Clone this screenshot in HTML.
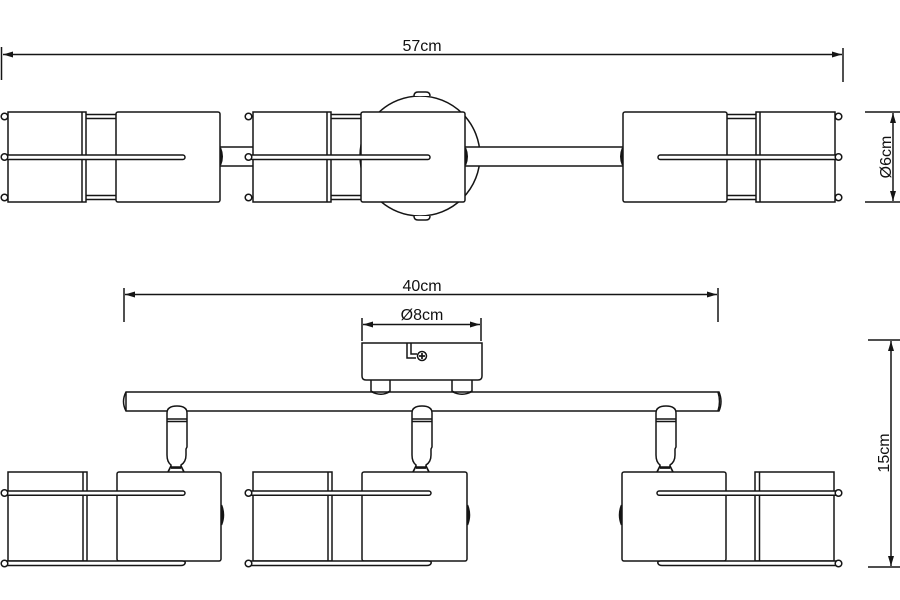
<!DOCTYPE html>
<html><head><meta charset="utf-8"><style>
html,body{margin:0;padding:0;background:#fff;}
svg{display:block;}
text{font-family:"Liberation Sans",Arial,sans-serif;fill:#111;}
</style></head><body>
<svg width="900" height="600" viewBox="0 0 900 600" xmlns="http://www.w3.org/2000/svg">
<g fill="none" stroke="#151515" stroke-width="1.5">

<!-- ===== TOP DIMENSION 57cm ===== -->
<line x1="1.5" y1="47" x2="1.5" y2="80"/>
<line x1="843" y1="48" x2="843" y2="82"/>
<line x1="3" y1="54.5" x2="842" y2="54.5"/>
<polygon points="3,54.5 13,51.5 13,57.5" fill="#151515" stroke="none"/>
<polygon points="842,54.5 832,51.5 832,57.5" fill="#151515" stroke="none"/>

<!-- ===== Ø6cm ===== -->
<line x1="865" y1="112" x2="900" y2="112"/>
<line x1="865" y1="202" x2="900" y2="202"/>
<line x1="893" y1="113" x2="893" y2="201"/>
<polygon points="893,113 890,123 896,123" fill="#151515" stroke="none"/>
<polygon points="893,201 890,191 896,191" fill="#151515" stroke="none"/>

<!-- ===== TOP VIEW ===== -->
<circle cx="420" cy="156" r="60" fill="#fff"/>
<path d="M414,96 Q414,92 418,92 L426,92 Q430,92 430,96" fill="#fff"/>
<path d="M414,216 Q414,220 418,220 L426,220 Q430,220 430,216" fill="#fff"/>
<rect x="218" y="147" width="37" height="19" fill="#fff"/>
<rect x="463" y="147" width="162" height="19" fill="#fff"/>

<!-- L1 -->
<rect x="116" y="112" width="104" height="90" rx="2" fill="#fff"/>
<line x1="86" y1="114.5" x2="116" y2="114.5"/><line x1="86" y1="118.5" x2="116" y2="118.5"/>
<line x1="86" y1="195.5" x2="116" y2="195.5"/><line x1="86" y1="199.5" x2="116" y2="199.5"/>
<rect x="8" y="112" width="78" height="90" fill="#fff"/>
<line x1="82" y1="112" x2="82" y2="202"/>
<rect x="6" y="155" width="179" height="4.5" rx="2.2" fill="#fff"/>
<circle cx="4.5" cy="116.5" r="3.3" fill="#fff"/>
<circle cx="4.5" cy="157" r="3.3" fill="#fff"/>
<circle cx="4.5" cy="197.5" r="3.3" fill="#fff"/>
<path d="M220.5,148 Q224,156.5 220.5,165" fill="#151515"/>

<!-- L2 -->
<line x1="331" y1="114.5" x2="361" y2="114.5"/><line x1="331" y1="118.5" x2="361" y2="118.5"/>
<line x1="331" y1="195.5" x2="361" y2="195.5"/><line x1="331" y1="199.5" x2="361" y2="199.5"/>
<rect x="361" y="112" width="104" height="90" rx="2" fill="#fff"/>
<rect x="253" y="112" width="78" height="90" fill="#fff"/>
<line x1="327" y1="112" x2="327" y2="202"/>
<rect x="250" y="155" width="180" height="4.5" rx="2.2" fill="#fff"/>
<circle cx="248.5" cy="116.5" r="3.3" fill="#fff"/>
<circle cx="248.5" cy="157" r="3.3" fill="#fff"/>
<circle cx="248.5" cy="197.5" r="3.3" fill="#fff"/>
<path d="M465.5,148 Q469,156.5 465.5,165" fill="#151515"/>

<!-- L3 -->
<line x1="727" y1="114.5" x2="756" y2="114.5"/><line x1="727" y1="118.5" x2="756" y2="118.5"/>
<line x1="727" y1="195.5" x2="756" y2="195.5"/><line x1="727" y1="199.5" x2="756" y2="199.5"/>
<rect x="623" y="112" width="104" height="90" rx="2" fill="#fff"/>
<rect x="756" y="112" width="79" height="90" fill="#fff"/>
<line x1="760" y1="112" x2="760" y2="202"/>
<rect x="658" y="155" width="180" height="4.5" rx="2.2" fill="#fff"/>
<circle cx="838.5" cy="116.5" r="3.3" fill="#fff"/>
<circle cx="838.5" cy="157" r="3.3" fill="#fff"/>
<circle cx="838.5" cy="197.5" r="3.3" fill="#fff"/>
<path d="M622.5,148 Q619,156.5 622.5,165" fill="#151515"/>

<!-- ===== 40cm ===== -->
<line x1="124" y1="288" x2="124" y2="322"/>
<line x1="718" y1="288" x2="718" y2="322"/>
<line x1="125" y1="294.5" x2="717" y2="294.5"/>
<polygon points="125,294.5 135,291.5 135,297.5" fill="#151515" stroke="none"/>
<polygon points="717,294.5 707,291.5 707,297.5" fill="#151515" stroke="none"/>

<!-- ===== Ø8cm ===== -->
<line x1="362" y1="318" x2="362" y2="341"/>
<line x1="481" y1="318" x2="481" y2="341"/>
<line x1="363" y1="324.5" x2="480" y2="324.5"/>
<polygon points="363,324.5 373,321.5 373,327.5" fill="#151515" stroke="none"/>
<polygon points="480,324.5 470,321.5 470,327.5" fill="#151515" stroke="none"/>

<!-- ===== 15cm ===== -->
<line x1="868" y1="340" x2="900" y2="340"/>
<line x1="868" y1="567" x2="900" y2="567"/>
<line x1="891" y1="341" x2="891" y2="566"/>
<polygon points="891,341 888,351 894,351" fill="#151515" stroke="none"/>
<polygon points="891,566 888,556 894,556" fill="#151515" stroke="none"/>

<!-- ===== FRONT VIEW ===== -->
<path d="M371,380 L371,391 Q381,397 390,391 L390,380" fill="#fff"/>
<path d="M452,380 L452,391 Q462,397 472,391 L472,380" fill="#fff"/>
<path d="M362,343 L482,343 L482,376 Q482,380 478,380 L366,380 Q362,380 362,376 Z" fill="#fff"/>
<path d="M407,343 L407,358 L416,358"/>
<path d="M411,343 L411,354 L417,354"/>
<circle cx="422" cy="356" r="4.5" fill="#fff"/>
<line x1="419" y1="356" x2="425" y2="356" stroke-width="1.7"/>
<line x1="422" y1="353" x2="422" y2="359" stroke-width="1.7"/>

<!-- bar -->
<path d="M126,392 L719,392 Q723,401.5 719,411 L126,411 Q121,401.5 126,392 Z" fill="#fff"/>
<line x1="126" y1="392" x2="126" y2="411"/>
<path d="M718,392 Q721,401.5 718,411"/>
<path d="M371,391.5 Q381,397 390,391.5"/>
<path d="M452,391.5 Q462,397 472,391.5"/>

<!-- pivots -->
<g fill="#fff">
<path d="M167,413 Q167,406 177,406 Q187,406 187,413 L187,447 L186,449 L186,455 Q186,462 181,465 L181,467 L171,467 L171,465 Q167,462 167,455 Z"/>
<path d="M412,413 Q412,406 422,406 Q432,406 432,413 L432,447 L431,449 L431,455 Q431,462 426,465 L426,467 L416,467 L416,465 Q412,462 412,455 Z"/>
<path d="M656,413 Q656,406 666,406 Q676,406 676,413 L676,447 L675,449 L675,455 Q675,462 670,465 L670,467 L660,467 L660,465 Q656,462 656,455 Z"/>
</g>
<line x1="167" y1="419" x2="187" y2="419"/><line x1="167" y1="421.5" x2="187" y2="421.5"/>
<line x1="412" y1="419" x2="432" y2="419"/><line x1="412" y1="421.5" x2="432" y2="421.5"/>
<line x1="656" y1="419" x2="676" y2="419"/><line x1="656" y1="421.5" x2="676" y2="421.5"/>
<path d="M171,466 L168,472 M181,466 L184,472 M171,468 L181,468" stroke-width="1.7"/>
<path d="M416,466 L413,472 M426,466 L429,472 M416,468 L426,468" stroke-width="1.7"/>
<path d="M660,466 L657,472 M670,466 L673,472 M660,468 L670,468" stroke-width="1.7"/>

<!-- B1 -->
<rect x="117" y="472" width="104" height="89" rx="2" fill="#fff"/>
<rect x="8" y="472" width="79" height="89" fill="#fff"/>
<line x1="83" y1="472" x2="83" y2="561"/>
<rect x="6" y="491" width="179" height="4.2" rx="2.1" fill="#fff"/>
<path d="M6,561 L182,561 Q186,561 185,563.5 Q184,565.5 181,565.5 L6,565.5" fill="#fff"/>
<circle cx="4.5" cy="493" r="3.3" fill="#fff"/>
<circle cx="4.5" cy="563.5" r="3.3" fill="#fff"/>
<path d="M221.5,505 Q225.5,515 221.5,525" fill="#151515"/>

<!-- B2 -->
<rect x="362" y="472" width="105" height="89" rx="2" fill="#fff"/>
<rect x="253" y="472" width="79" height="89" fill="#fff"/>
<line x1="328" y1="472" x2="328" y2="561"/>
<rect x="250" y="491" width="181" height="4.2" rx="2.1" fill="#fff"/>
<path d="M250,561 L428,561 Q432,561 431,563.5 Q430,565.5 427,565.5 L250,565.5" fill="#fff"/>
<circle cx="248.5" cy="493" r="3.3" fill="#fff"/>
<circle cx="248.5" cy="563.5" r="3.3" fill="#fff"/>
<path d="M467.5,505 Q471.5,515 467.5,525" fill="#151515"/>

<!-- B3 -->
<rect x="622" y="472" width="104" height="89" rx="2" fill="#fff"/>
<rect x="755" y="472" width="79" height="89" fill="#fff"/>
<line x1="759.5" y1="472" x2="759.5" y2="561"/>
<rect x="657" y="491" width="181" height="4.2" rx="2.1" fill="#fff"/>
<path d="M837,561 L661,561 Q657,561 658,563.5 Q659,565.5 662,565.5 L837,565.5" fill="#fff"/>
<circle cx="838.5" cy="493" r="3.3" fill="#fff"/>
<circle cx="838.5" cy="563.5" r="3.3" fill="#fff"/>
<path d="M621.5,505 Q617.5,515 621.5,525" fill="#151515"/>
</g>

<!-- TEXT -->
<text x="422" y="51" font-size="16" text-anchor="middle">57cm</text>
<text x="422" y="291" font-size="16" text-anchor="middle">40cm</text>
<text x="422" y="320" font-size="16" text-anchor="middle">Ø8cm</text>
<text x="0" y="0" font-size="16" text-anchor="middle" transform="translate(891,157) rotate(-90)">Ø6cm</text>
<text x="0" y="0" font-size="16" text-anchor="middle" transform="translate(889,453) rotate(-90)">15cm</text>
</svg>
</body></html>
